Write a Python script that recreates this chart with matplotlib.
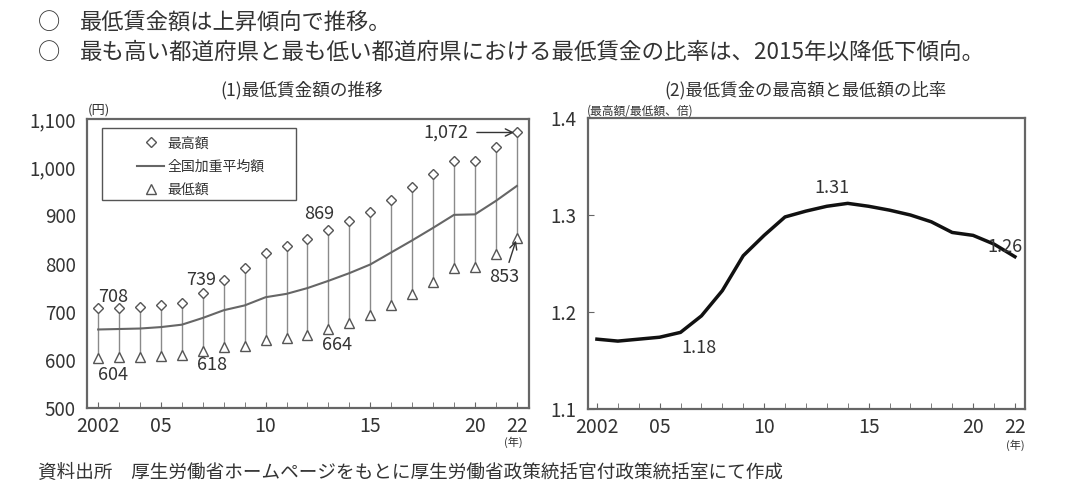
import numpy as np
import matplotlib
matplotlib.use('Agg')
import matplotlib.pyplot as plt
from matplotlib.lines import Line2D
from matplotlib.patches import Rectangle

plt.rcParams['font.family'] = ['Noto Sans CJK JP', 'DejaVu Sans']

# data
years = list(range(2002, 2023))
max_wage = [708, 708, 710, 714, 719, 739, 766, 791, 821, 837, 850,
            869, 888, 907, 932, 958, 985, 1013, 1013, 1041, 1072]
min_wage = [604, 605, 606, 608, 610, 618, 627, 629, 642, 645, 652,
            664, 677, 693, 714, 737, 762, 790, 792, 820, 853]
avg_wage = [663, 664, 665, 668, 673, 687, 703, 713, 730, 737, 749,
            764, 780, 798, 823, 848, 874, 901, 902, 930, 961]
ratio = [1.172, 1.170, 1.172, 1.174, 1.179, 1.196, 1.222, 1.258, 1.279, 1.298, 1.304,
         1.309, 1.312, 1.309, 1.305, 1.300, 1.293, 1.282, 1.279, 1.270, 1.257]
xtick_years = [2002, 2005, 2010, 2015, 2020, 2022]
xtick_labels = ['2002', '05', '10', '15', '20', '22']

txt = '#333333'
spine = '#666666'

fig = plt.figure(figsize=(10.8, 5), dpi=100)

# header / footer
fig.text(0.035, 0.955, '○', fontsize=16, color=txt, va='center')
fig.text(0.074, 0.955, '最低賃金額は上昇傾向で推移。', fontsize=16, color=txt, va='center')
fig.text(0.035, 0.895, '○', fontsize=16, color=txt, va='center')
fig.text(0.074, 0.895, '最も高い都道府県と最も低い都道府県における最低賃金の比率は、2015年以降低下傾向。',
         fontsize=16.2, color=txt, va='center')
fig.text(0.035, 0.055, '資料出所　厚生労働省ホームページをもとに厚生労働省政策統括官付政策統括室にて作成',
         fontsize=13.4, color=txt, va='center')


def style_axes(ax):
    for s in ax.spines.values():
        s.set_color(spine)
        s.set_linewidth(1.6)
    ax.set_xticks(years, minor=True)
    ax.set_xticks(xtick_years)
    ax.set_xticklabels(xtick_labels)
    ax.tick_params(axis='x', which='both', direction='in', length=4, color=spine,
                   labelsize=14, labelcolor=txt, pad=6)
    ax.tick_params(axis='y', direction='in', length=4, color=spine,
                   labelsize=13.5, labelcolor=txt, pad=8)


def label(ax, text, xy, off):
    ax.annotate(text, xy, xytext=off, textcoords='offset points',
                ha='center', va='center', fontsize=13, color=txt)


# (1) minimum wage
ax1 = fig.add_axes([0.0806, 0.184, 0.409, 0.578])
ax1.vlines(years, min_wage, max_wage, color='#8a8a8a', linewidth=1.0, zorder=1)
ax1.plot(years, avg_wage, color='#666666', linewidth=1.5, zorder=2)
ax1.plot(years, max_wage, linestyle='none', marker='D', markersize=5,
         markerfacecolor='white', markeredgecolor='#555555', markeredgewidth=1.0, zorder=3)
ax1.plot(years, min_wage, linestyle='none', marker='^', markersize=7,
         markerfacecolor='white', markeredgecolor='#555555', markeredgewidth=1.0, zorder=3)
ax1.set_xlim(2001.47, 2022.57)
ax1.set_ylim(500, 1100)
ax1.set_yticks(range(500, 1101, 100))
ax1.set_yticklabels([f'{v:,}' for v in range(500, 1101, 100)])
style_axes(ax1)
ax1.tick_params(axis='y', length=0)

label(ax1, f'{max_wage[0]}', (years[0], max_wage[0]), (11, 8))
label(ax1, f'{min_wage[0]}', (years[0], min_wage[0]), (11, -12))
label(ax1, f'{max_wage[5]}', (years[5], max_wage[5]), (-1, 9))
label(ax1, f'{min_wage[5]}', (years[5], min_wage[5]), (7, -10))
label(ax1, f'{max_wage[11]}', (years[11], max_wage[11]), (-7, 11.5))
label(ax1, f'{min_wage[11]}', (years[11], min_wage[11]), (6.5, -11.5))
ax1.annotate(f'{max_wage[-1]:,}', (years[-1], max_wage[-1]), xytext=(-51, 0),
             textcoords='offset points', va='center', fontsize=13, color=txt, ha='center',
             arrowprops=dict(arrowstyle='->', color='#333333', lw=1.0, shrinkA=4, shrinkB=2))
ax1.annotate(f'{min_wage[-1]}', (years[-1], min_wage[-1]), xytext=(-9, -28),
             textcoords='offset points', va='center', fontsize=13, color=txt, ha='center',
             arrowprops=dict(arrowstyle='->', color='#333333', lw=1.0, shrinkA=2, shrinkB=2))

# legend (frame drawn separately so the left padding matches)
handles = [
    Line2D([], [], linestyle='none', marker='D', markersize=5, markerfacecolor='white',
           markeredgecolor='#555555'),
    Line2D([], [], color='#666666', linewidth=1.5),
    Line2D([], [], linestyle='none', marker='^', markersize=7, markerfacecolor='white',
           markeredgecolor='#555555'),
]
leg = ax1.legend(handles, ['最高額', '全国加重平均額', '最低額'], loc='upper left',
                 bbox_to_anchor=(0.113, 0.94), frameon=False, fontsize=10,
                 handlelength=1.95, handletextpad=0.25, labelspacing=0.68, borderpad=0,
                 borderaxespad=0)
for t in leg.get_texts():
    t.set_color(txt)
ax1.add_patch(Rectangle((0.034, 0.72), 0.439, 0.249, transform=ax1.transAxes,
                        fill=False, edgecolor='#555555', linewidth=1.0, zorder=4))

fig.text(0.0815, 0.78, '(円)', fontsize=9.5, color=txt, va='center')
fig.text(0.279, 0.82, '(1)最低賃金額の推移', fontsize=12.7, color=txt, ha='center', va='center')
fig.text(0.475, 0.115, '(年)', fontsize=8, color=txt, ha='center', va='center')

# (2) ratio
ax2 = fig.add_axes([0.5444, 0.182, 0.4046, 0.582])
ax2.plot(years, ratio, color='#111111', linewidth=2.5)
ax2.set_xlim(2001.57, 2022.48)
ax2.set_ylim(1.1, 1.4)
ax2.set_yticks([1.1, 1.2, 1.3, 1.4])
ax2.set_yticklabels(['1.1', '1.2', '1.3', '1.4'])
style_axes(ax2)

label(ax2, f'{ratio[12]:.2f}', (years[12], ratio[12]), (-11, 11))
label(ax2, f'{ratio[4]:.2f}', (years[4], ratio[4]), (13, -11))
label(ax2, f'{ratio[-1]:.2f}', (years[-1], ratio[-1]), (-7, 7))

fig.text(0.543, 0.778, '(最高額/最低額、倍)', fontsize=8.5, color=txt, va='center')
fig.text(0.746, 0.82, '(2)最低賃金の最高額と最低額の比率', fontsize=12.5, color=txt, ha='center', va='center')
fig.text(0.94, 0.11, '(年)', fontsize=8, color=txt, ha='center', va='center')

fig.savefig('out.png', dpi=100)
